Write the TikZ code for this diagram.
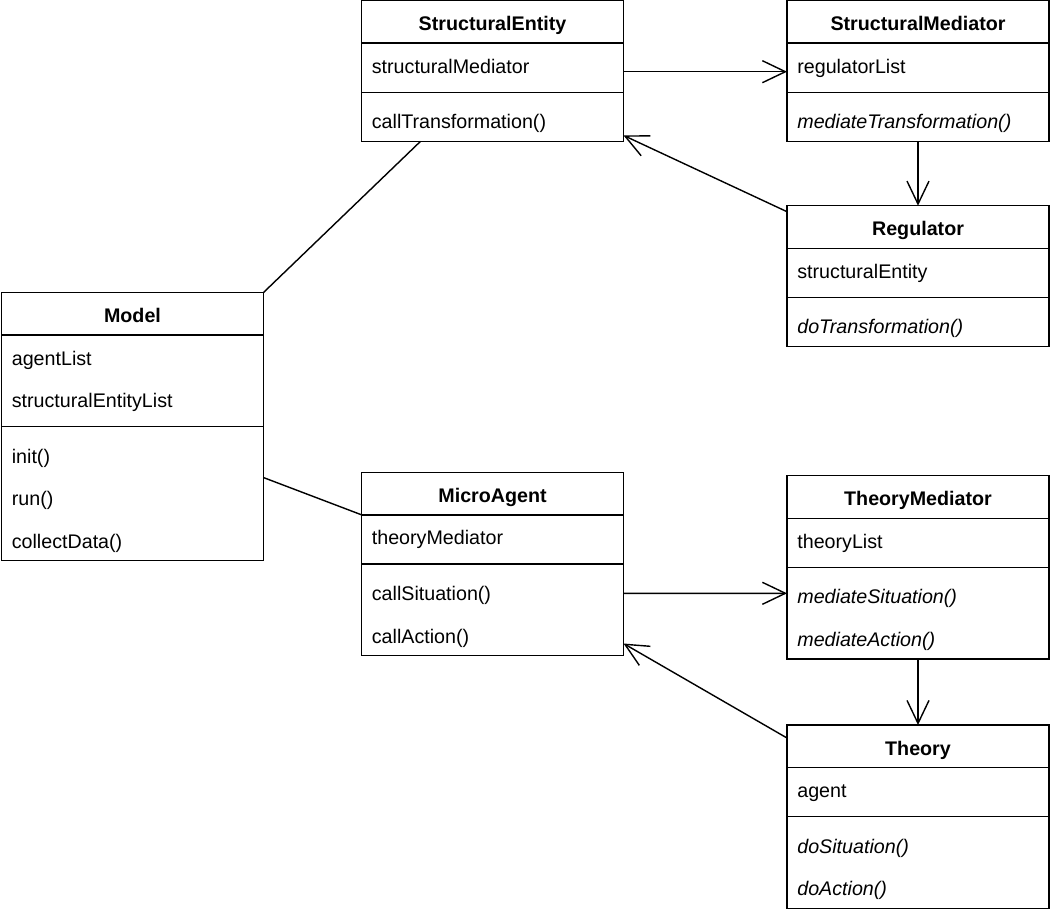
\documentclass[tikz,border=0pt]{standalone}
\usepackage{fontspec}
\setmainfont{Liberation Sans}
\usetikzlibrary{arrows.meta,positioning,calc}

\tikzset{
	classbox/.style={draw, line width=0.8pt, rectangle, inner sep=0pt, outer sep=0pt, minimum width=262*0.02cm, anchor=north west},
	classtitle/.style={font=\fontsize{11.2}{13}\selectfont\bfseries, inner sep=0pt, anchor=base},
	member/.style={font=\fontsize{11.2}{13}\selectfont, inner sep=0pt, anchor=base west},
	assoc/.style={line width=0.8pt},
	nav/.style={line width=0.8pt, -{Straight Barb[length=0.46cm,width=0.44cm]}},
}

%UML class box: name, x, y, title, no. of attribute rows, attributes, no. of method rows, methods
%===========================================================
\newcommand{\umlclass}[8]{%
	\pgfmathsetmacro \Hatt {42.5*#5+6.6}; %Height of attribute part
	\pgfmathsetmacro \Hmet {42.5*#7+6.6}; %Height of method part
	\pgfmathsetmacro \HClass {42.5+\Hatt+\Hmet}; %Height of the whole box
	\node[classbox, minimum height=\HClass*0.02cm] (#1) at (#2,#3) {};
	\draw[line width=0.8pt] ($(#1.north west)+(0,42.5)$) -- ($(#1.north east)+(0,42.5)$); %Header line
	\draw[line width=0.8pt] ($(#1.north west)+(0,42.5+\Hatt)$) -- ($(#1.north east)+(0,42.5+\Hatt)$); %Attribute line
	\node[classtitle] (#1-title) at ($(#1.north)+(0,30)$) {#4};
	\foreach \txt [count=\i] in {#6}
		\node[member] (#1-att\i) at ($(#1.north west)+(10,42.5*\i+30)$) {\txt};
	\foreach \txt [count=\i] in {#8}
		\node[member] (#1-met\i) at ($(#1.north west)+(10,42.5*\i+\Hatt+36.6)$) {\txt};
}

\begin{document}
\begin{tikzpicture}[x=0.02cm,y=-0.02cm]
	\useasboundingbox (0,0) rectangle (1050,909);
	%Classes%
	%===========================================================
	\umlclass{model}{1.5}{292.5}{Model}{2}{agentList,structuralEntityList}{3}{init(),run(),collectData()}
	\umlclass{structEntity}{361.5}{0.7}{StructuralEntity}{1}{structuralMediator}{1}{callTransformation()}
	\umlclass{structMediator}{787}{0.7}{StructuralMediator}{1}{regulatorList}{1}{\textit{mediateTransformation()}}
	\umlclass{regulator}{787}{205.7}{Regulator}{1}{structuralEntity}{1}{\textit{doTransformation()}}
	\umlclass{microAgent}{361.5}{472.3}{MicroAgent}{1}{theoryMediator}{2}{callSituation(),callAction()}
	\umlclass{theoryMediator}{787}{475.7}{TheoryMediator}{1}{theoryList}{2}{\textit{mediateSituation()},\textit{mediateAction()}}
	\umlclass{theory}{787}{725}{Theory}{1}{agent}{2}{\textit{doSituation()},\textit{doAction()}}
	
	%Associations%
	%===========================================================
	\draw[assoc] (model.north east) -- ($(structEntity.south west)!0.225!(structEntity.south east)$); %Model - StructuralEntity
	\draw[assoc] ($(model.north east)!0.69!(model.south east)$) -- ($(microAgent.north west)+(0,42.5)$); %Model - MicroAgent
	
	\draw[nav] ($(structEntity.north east)+(0,71)$) -- ($(structMediator.north west)+(0,71)$); %Entity to mediator
	\draw[nav] (structMediator.south) -- (regulator.north); %Mediator to regulator
	\draw[nav] ($(regulator.north west)+(0,6)$) -- ($(structEntity.south east)+(0,-6)$); %Regulator back to entity
	
	\draw[nav] ($(microAgent.north east)+(0,121)$) -- ($(theoryMediator.north west)+(0,117.6)$); %Agent to mediator
	\draw[nav] (theoryMediator.south) -- (theory.north); %Mediator to theory
	\draw[nav] ($(theory.north west)+(0,13)$) -- ($(microAgent.south east)+(0,-12)$); %Theory back to agent
\end{tikzpicture}
\end{document}
